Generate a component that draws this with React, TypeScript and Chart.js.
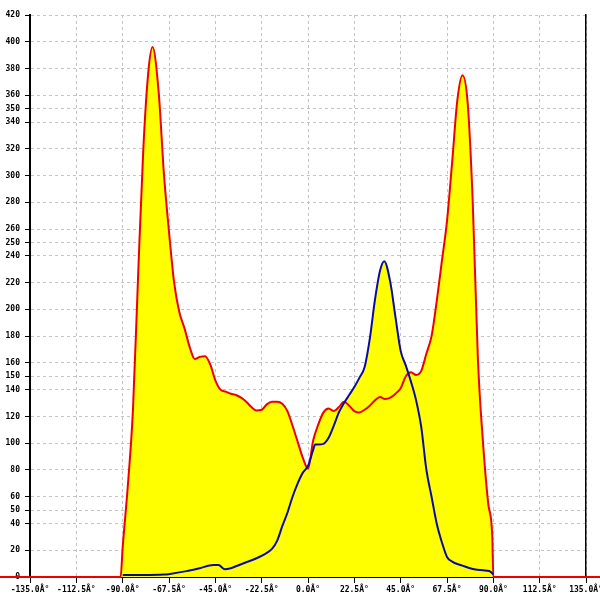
import React, { useEffect, useRef } from "react";
import { Chart, registerables } from "chart.js";

Chart.register(...registerables);

// Red (filled) series: angle in degrees, value
const redAngles = [
  -150, -91, -90, -87.5, -85, -82.5, -80, -77.5, -75.5, -72.5, -70, -67.5, -65, -62.5, -60, -57.5, -55,
  -52.5, -50, -47.5, -45, -42.5, -40, -37.5, -35, -32.5, -30, -27.5, -25, -22.5, -20, -17.5, -15,
  -12.5, -10, -7.5, -5, -2.5, 0, 2.5, 5, 7.5, 10, 12.5, 15, 17.5, 20, 22.5, 25, 27.5, 30, 32.5, 35,
  37.5, 40, 42.5, 45, 47.5, 50, 52.5, 55, 57.5, 60, 62.5, 65, 67.5, 70, 72.5, 75, 77.5, 80, 82.5,
  85, 87.5, 89.5, 90, 150,
];
const redValues = [
  0, 0, 22, 68, 125, 225, 319, 378, 396, 362, 302, 258, 220, 198, 186, 172, 163,
  164.5, 165, 159, 147, 140, 138.5, 137, 136, 134, 131, 127, 124.5, 125, 129, 131, 131,
  129.5, 124, 113, 101, 89, 81, 102, 114, 123, 126, 124, 127, 131, 128, 124, 123, 125, 128, 132, 134.5,
  133, 134, 137, 141, 150, 153, 151, 154, 167, 180, 206, 236, 266, 310, 356, 375, 355, 280, 163,
  100, 55, 30, 0, 0,
];

// Blue series
const blueAngles = [
  -90, -80, -70, -67, -59, -52.5, -46, -43.5, -40.3, -37.5, -35, -30, -25, -20, -17.5, -15, -12.5,
  -10, -7.5, -5, -2.5, 0, 2.5, 3.5, 5, 7.5, 10, 12.5, 15, 17.5, 20, 22.5, 25, 27.5, 30, 32.5, 35,
  37, 40, 42.5, 45, 47.5, 50, 52.5, 55, 57.5, 60, 62.5, 65, 67.5, 70, 75, 80, 85, 88, 90,
];
const blueValues = [
  1.5, 1.5, 1.8, 2.3, 4.4, 6.6, 8.9, 8.9, 5.7, 6.5, 8, 11, 14, 18, 21, 27, 38,
  48, 60, 70, 78, 83, 95, 99, 99, 99.5, 104, 113, 123, 130, 136, 142, 149, 157, 178, 207, 229,
  236, 220, 194, 169, 158, 146, 132, 112, 80, 60, 40, 26, 15, 11.5, 8.5, 6, 5, 4.5, 2,
];

const yTickValues = [
  0, 20, 40, 50, 60, 80, 100, 120, 140, 150, 160, 180, 200, 220, 240, 250, 260, 280, 300, 320, 340,
  350, 360, 380, 400, 420,
];
const xTickValues = [-135, -112.5, -90, -67.5, -45, -22.5, 0, 22.5, 45, 67.5, 90, 112.5, 135];
const xTickSuffix = "Â°";

const tickFont = { family: "'DejaVu Sans Mono', monospace", size: 8, weight: "bold" as const };

export default function App() {
  const ref = useRef<HTMLCanvasElement | null>(null);

  useEffect(() => {
    if (!ref.current) return;
    const chart = new Chart(ref.current, {
      type: "line",
      data: {
        datasets: [
          {
            label: "blue",
            data: blueAngles.map((a, i) => ({ x: a, y: blueValues[i] })),
            borderColor: "#0a0aa8",
            borderWidth: 2,
            backgroundColor: "#ffff00",
            fill: "origin",
            pointRadius: 0,
            cubicInterpolationMode: "monotone",
          },
          {
            label: "red",
            data: redAngles.map((a, i) => ({ x: a, y: redValues[i] })),
            borderColor: "#ee0000",
            borderWidth: 2,
            backgroundColor: "#ffff00",
            fill: "origin",
            pointRadius: 0,
            cubicInterpolationMode: "monotone",
            clip: false as any,
          },
        ],
      },
      options: {
        animation: false,
        responsive: false,
        events: [],
        layout: { padding: { top: 15, right: 14, left: 0, bottom: 0 } },
        plugins: {
          legend: { display: false },
          tooltip: { enabled: false },
          filler: { drawTime: "beforeDatasetsDraw" },
        },
        scales: {
          x: {
            type: "linear",
            min: -135,
            max: 135,
            afterBuildTicks: (s: any) => {
              s.ticks = xTickValues.map((v) => ({ value: v }));
            },
            afterFit: (s: any) => {
              s.height = 23;
              s.paddingLeft = 0;
              s.paddingRight = 0;
            },
            ticks: {
              autoSkip: false,
              maxRotation: 0,
              minRotation: 0,
              padding: 2,
              color: "#000",
              font: tickFont,
              callback: (v: any) => Number(v).toFixed(1) + xTickSuffix,
            },
            grid: {
              color: "#c4c4c4",
              lineWidth: 1,
              tickColor: "#000",
              tickLength: 6,
              tickWidth: 1,
            },
            border: { display: true, color: "#000", width: 1, dash: [3, 3] },
          },
          y: {
            type: "linear",
            position: "left",
            min: 0,
            max: 420,
            afterBuildTicks: (s: any) => {
              s.ticks = yTickValues.map((v) => ({ value: v }));
            },
            afterFit: (s: any) => {
              s.width = 30;
              s.paddingTop = 0;
              s.paddingBottom = 0;
            },
            ticks: {
              autoSkip: false,
              padding: 5,
              color: "#000",
              font: tickFont,
              callback: (v: any) => String(v),
            },
            grid: {
              color: "#c4c4c4",
              lineWidth: 1,
              tickColor: "#000",
              tickLength: 5,
              tickWidth: 1,
            },
            border: { display: true, color: "#000", width: 2, dash: [3, 3] },
          },
          y2: {
            type: "linear",
            position: "right",
            min: 0,
            max: 420,
            afterFit: (s: any) => {
              s.width = 0;
            },
            ticks: { display: false },
            grid: { display: false, drawTicks: false },
            border: { display: true, color: "#000", width: 1.5 },
          },
        },
      } as any,
    });
    return () => chart.destroy();
  }, []);

  return (
    <div style={{ position: "fixed", left: 0, top: 0, width: 600, height: 600, background: "#fff" }}>
      <canvas ref={ref} width={600} height={600} style={{ display: "block" }} />
    </div>
  );
}
